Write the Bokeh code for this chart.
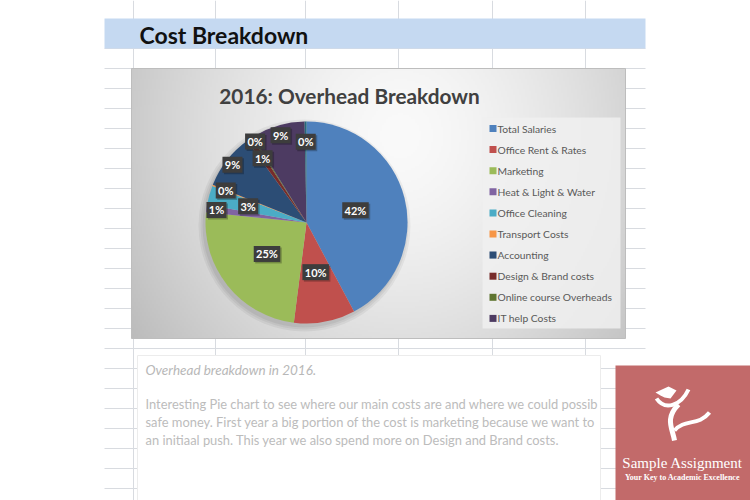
import numpy as np
from bokeh.plotting import figure
from bokeh.models import Range1d, ColumnDataSource
from bokeh.core.properties import value
from bokeh.embed import file_html
from bokeh.resources import INLINE

# ---------------- data ----------------
categories = ["Total Salaries", "Office Rent & Rates", "Marketing", "Heat & Light & Water",
              "Office Cleaning", "Transport Costs", "Accounting", "Design & Brand costs",
              "Online course Overheads", "IT help Costs", "Other"]
shares = [42.2, 9.8, 24.6, 1.2, 3.1, 0.2, 8.9, 0.9, 0.2, 8.6, 0.3]
colors = ["#4F81BD", "#C0504D", "#9BBB59", "#8064A2", "#4BACC6", "#F79646",
          "#2C4D75", "#772C2A", "#5F7530", "#4D3B62", "#276A7C"]
legend_count = 10
sheet_title = "Cost Breakdown"
chart_title = "2016: Overhead Breakdown"
note_title = "Overhead breakdown in 2016."
note_lines = ["Interesting Pie chart to see where our main costs are and where we could possib",
              "safe money. First year a big portion of the cost is marketing because we want to",
              "an initiaal push. This year we also spend more on Design and Brand costs."]

# ---------------- layout ----------------
W, H = 750, 500
def sy(v):
    return H - v

FONT = "Lato"
p = figure(width=W, height=H, x_range=Range1d(0, W), y_range=Range1d(0, H),
           output_backend="svg", toolbar_location=None, min_border=0)
p.axis.visible = False
p.grid.visible = False
p.outline_line_color = None
p.background_fill_color = "white"
p.border_fill_color = "white"

# spreadsheet grid
grid_col = "#d8dbe0"
vx = [133, 215, 305, 398, 492, 585]
p.segment(x0=vx, y0=[sy(0)] * len(vx), x1=vx, y1=[sy(500)] * len(vx), line_color=grid_col, line_width=1)
rows = list(range(48, 500, 20))
p.segment(x0=[104] * len(rows), y0=[sy(r) for r in rows], x1=[645] * len(rows), y1=[sy(r) for r in rows],
          line_color=grid_col, line_width=1)

# title band
p.quad(left=104, right=645, top=sy(18), bottom=sy(48), fill_color="#c5d9f1", line_color=None)
p.text(x=[139], y=[sy(34)], text=[sheet_title], text_font=value(FONT), text_font_style="bold",
       text_font_size="23px", text_color="#111111", text_baseline="middle", text_align="left")

# chart area with radial gradient
cx0, cx1, cy0, cy1 = 131, 625, 68, 338
nx, ny = 247, 135
xs = np.linspace(cx0, cx1, nx)
ys = np.linspace(cy1, cy0, ny)  # row 0 = bottom
X, Y = np.meshgrid(xs, ys)
d = np.sqrt(((X - 400) / 300.0) ** 2 + ((Y - 135) / 330.0) ** 2)
g = np.clip(250 - 55 * d ** 1.5, 150, 255).astype(np.uint32)
img = (255 << 24) | (g << 16) | (g << 8) | g
p.image_rgba(image=[img.astype(np.uint32)], x=cx0, y=sy(cy1), dw=cx1 - cx0, dh=cy1 - cy0)
p.quad(left=cx0, right=cx1, top=sy(cy0), bottom=sy(cy1), fill_color=None, line_color="#bdbdbd", line_width=1)

p.text(x=[349], y=[sy(95)], text=[chart_title], text_font=value(FONT), text_font_style="bold",
       text_font_size="20.8px", text_color="#404040", text_baseline="middle", text_align="center")

# pie
pcx, pcy, pr = 306, 222, 101
for k, a in enumerate([0.05, 0.05, 0.06]):
    p.circle(x=[pcx - 2], y=[sy(pcy + 3)], radius=pr + 5 - 2 * k, fill_color="#000000",
             fill_alpha=a, line_color=None)
vals = np.array(shares, dtype=float)
tot = vals.sum()
cum = np.concatenate([[0], np.cumsum(vals)])
start = np.pi / 2 - 2 * np.pi * cum[:-1] / tot
end = np.pi / 2 - 2 * np.pi * cum[1:] / tot
src = ColumnDataSource(dict(start=start, end=end, color=colors, cat=categories))
p.wedge(x=pcx, y=sy(pcy), radius=pr, start_angle="start", end_angle="end", direction="clock",
        fill_color="color", line_color=None, source=src)

# data labels
label_r = [0.5, 0.5, 0.5, 0.9, 0.6, 0.86, 0.93, 0.77, 0.95, 0.9, 0.8]
mid = (start + end) / 2
labels = ["%d%%" % int(round(v / tot * 100)) for v in vals]
lx = pcx + np.array(label_r) * pr * np.cos(mid)
ly = sy(pcy) + np.array(label_r) * pr * np.sin(mid)
lw = [6.5 * len(t) + 7 for t in labels]
p.rect(x=lx + 1.5, y=ly - 1.5, width=lw, height=16, fill_color="#000000", fill_alpha=0.25, line_color=None)
p.rect(x=lx, y=ly, width=lw, height=16, fill_color="#3d3d3d", line_color=None)
p.text(x=lx, y=ly, text=labels, text_font=value(FONT), text_font_style="bold", text_font_size="11px",
       text_color="white", text_baseline="middle", text_align="center")

# legend
p.quad(left=482, right=620, top=sy(117), bottom=sy(328), fill_color="#f0f0f0", fill_alpha=0.85, line_color=None)
ly0 = [128 + 21.1 * i for i in range(legend_count)]
p.rect(x=[492.5] * legend_count, y=[sy(v) for v in ly0], width=7, height=7,
       fill_color=colors[:legend_count], line_color=None)
p.text(x=[497] * legend_count, y=[sy(v) for v in ly0], text=categories[:legend_count],
       text_font=value(FONT), text_font_size="10.3px", text_color="#595959",
       text_baseline="middle", text_align="left")

# note text box
p.quad(left=137, right=600, top=sy(355), bottom=sy(500), fill_color="white", line_color="#ececec")
p.text(x=[145], y=[sy(369)], text=[note_title], text_font=value(FONT), text_font_style="italic",
       text_font_size="13.5px", text_color="#b8b8b8", text_baseline="middle", text_align="left")
p.text(x=[145] * 3, y=[sy(403), sy(421), sy(439)], text=note_lines, text_font=value(FONT),
       text_font_size="12.9px", text_color="#bcbcbc", text_baseline="middle", text_align="left")

# logo
p.quad(left=615, right=750, top=sy(365), bottom=sy(500), fill_color="#c26a6a", line_color=None)
p.patch(x=[655, 668, 676, 670, 664, 660], y=[sy(392), sy(386), sy(390), sy(398), sy(397), sy(395)],
        fill_color="white", line_color=None)
p.bezier(x0=[656], y0=[sy(398)], x1=[688], y1=[sy(389)], cx0=[664], cy0=[sy(410)], cx1=[680], cy1=[sy(406)],
         line_color="white", line_width=4)
p.bezier(x0=[678], y0=[sy(404)], x1=[674], y1=[sy(440)], cx0=[664], cy0=[sy(418)], cx1=[672], cy1=[sy(428)],
         line_color="white", line_width=5)
p.bezier(x0=[674], y0=[sy(430)], x1=[709], y1=[sy(412)], cx0=[684], cy0=[sy(418)], cx1=[698], cy1=[sy(426)],
         line_color="white", line_width=4)
p.text(x=[682], y=[sy(462)], text=["Sample Assignment"], text_font=value("Liberation Serif"),
       text_font_size="15px", text_color="white", text_baseline="middle", text_align="center")
p.text(x=[682], y=[sy(477)], text=["Your Key to Academic Excellence"], text_font=value("Liberation Serif"),
       text_font_style="bold", text_font_size="8px", text_color="white", text_baseline="middle",
       text_align="center")

open("out.html", "w").write(file_html(p, INLINE))
